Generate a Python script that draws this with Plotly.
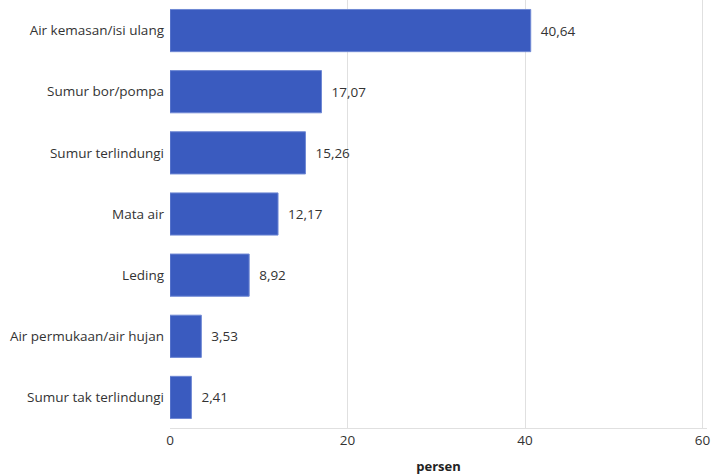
import plotly.graph_objects as go

categories = ["Air kemasan/isi ulang", "Sumur bor/pompa", "Sumur terlindungi", "Mata air",
              "Leding", "Air permukaan/air hujan", "Sumur tak terlindungi"]
values = [40.64, 17.07, 15.26, 12.17, 8.92, 3.53, 2.41]
x_ticks = [0, 20, 40, 60]

labels = ["  " + f"{v:.2f}".replace(".", ",") for v in values]

fig = go.Figure(go.Bar(
    x=values[::-1], y=categories[::-1], orientation="h",
    text=labels[::-1], textposition="outside", cliponaxis=False,
    textfont=dict(color="#333333", size=13.5),
    marker=dict(color="#3a5bbf", line=dict(color="#6f88d4", width=1)),
    width=0.69,
))

fig.update_layout(
    width=711, height=475,
    margin=dict(l=170, r=2, t=0, b=47),
    paper_bgcolor="white", plot_bgcolor="white",
    font=dict(family="Open Sans, Noto Sans, sans-serif", size=13.5, color="#333333"),
    showlegend=False,
)
fig.update_xaxes(
    range=[0, 60.5], tickvals=x_ticks, ticktext=[str(t) for t in x_ticks],
    showgrid=True, gridcolor="#e0e0e0", gridwidth=1,
    showline=True, linecolor="#e0e0e0", linewidth=1,
    zeroline=False, ticks="", tickfont=dict(size=13.5, color="#333333"),
    ticklabeloverflow="allow",
    title=dict(text="<b>persen</b>", font=dict(size=13, color="#222222"), standoff=14),
)
fig.update_yaxes(
    showgrid=False, showline=False, zeroline=False, ticks="",
    ticklabelstandoff=5, tickfont=dict(size=13.5, color="#333333"),
)

fig.write_html("out.html")
